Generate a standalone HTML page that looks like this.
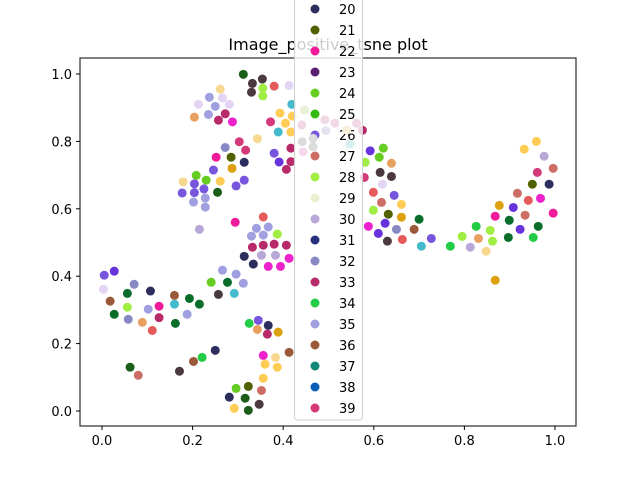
<!DOCTYPE html>
<html><head><meta charset="utf-8"><style>
html,body{margin:0;padding:0;background:#fff}
svg{display:block;font-family:"DejaVu Sans","Liberation Sans",sans-serif}
</style></head><body>
<svg id="chart" width="640" height="480">
<rect x="0" y="0" width="640" height="480" fill="#fff"/>
<g id="marks"></g>
<rect x="80" y="58" width="496" height="368" fill="none" stroke="#000" stroke-width="1"/>
<g id="axes"></g>
<text x="328" y="50" font-size="16" text-anchor="middle">Image_positive_tsne plot</text>
<g id="legend"></g>
<g id="faded"></g>
</svg>
<script>
const xs=[.312,.354,.332,.330,.355,.355,.380,.413,.261,.237,.266,.281,.213,.250,.235,.272,.257,.288,.204,.393,.420,.372,.405,.389,.417,.419,.343,.303,.317,.272,.252,.285,.314,.287,.246,.380,.391,.417,.417,.407,.208,.230,.179,.204,.225,.204,.177,.261,.255,.314,.296,.228,.202,.228,.215,.294,.356,.341,.367,.330,.356,.387,.332,.356,.380,.407,.314,.352,.383,.334,.367,.394,.413,.005,.027,.003,.071,.056,.107,.018,.056,.027,.058,.089,.102,.126,.126,.111,.160,.160,.162,.193,.215,.188,.266,.296,.312,.241,.277,.257,.292,.325,.345,.343,.367,.365,.389,.413,.356,.383,.360,.387,.356,.352,.296,.323,.281,.316,.347,.292,.323,.250,.221,.202,.171,.062,.080,
.575,.592,.621,.612,.581,.639,.579,.614,.639,.619,.599,.645,.617,.661,.599,.632,.661,.700,.588,.625,.610,.650,.689,.630,.663,.705,.727,.769,.795,.826,.813,.831,.857,.862,.848,.868,.877,.868,.908,.899,.897,.923,.934,.917,.941,.963,.952,.968,.950,.987,.961,.996,.976,.932,.959,.996];
const ys=[.999,.985,.972,.946,.958,.935,.964,.966,.955,.931,.929,.910,.910,.904,.880,.882,.863,.858,.872,.884,.875,.858,.854,.828,.828,.910,.808,.799,.774,.782,.753,.753,.738,.720,.715,.765,.739,.780,.740,.717,.699,.685,.680,.674,.659,.648,.647,.682,.649,.685,.668,.632,.620,.605,.539,.560,.576,.542,.546,.519,.522,.525,.486,.492,.495,.492,.459,.462,.462,.436,.429,.429,.453,.403,.415,.361,.376,.349,.356,.326,.308,.287,.272,.263,.302,.311,.277,.239,.343,.317,.260,.334,.317,.287,.418,.406,.379,.382,.382,.346,.349,.260,.269,.242,.254,.228,.234,.174,.165,.159,.139,.130,.097,.061,.067,.073,.041,.038,.020,.008,.002,.180,.159,.147,.118,.130,.106,
.833,.772,.780,.753,.738,.735,.693,.708,.696,.673,.649,.640,.619,.613,.596,.584,.575,.569,.548,.557,.527,.539,.539,.504,.509,.489,.512,.489,.518,.548,.486,.512,.536,.504,.474,.388,.610,.578,.604,.566,.515,.539,.581,.646,.625,.548,.515,.631,.673,.673,.708,.720,.756,.777,.800,.587];
const cls=[8,0,0,0,28,28,1,2,3,35,2,2,2,35,35,33,33,12,5,4,4,39,4,6,4,6,3,39,39,32,22,21,20,7,26,26,10,33,33,33,24,24,3,26,26,26,26,4,8,26,26,35,35,35,30,22,1,35,35,35,35,28,33,33,33,33,20,30,30,20,12,12,12,26,10,2,32,9,20,36,28,9,32,5,35,22,33,1,36,6,9,9,9,35,35,35,35,24,9,0,6,34,26,5,20,33,7,36,12,3,4,4,4,27,24,21,20,8,0,4,8,20,34,36,0,8,27,
33,10,24,24,28,5,39,0,0,2,1,26,27,4,28,21,7,9,12,10,10,32,36,0,1,6,26,34,28,34,30,5,28,28,3,7,7,22,10,9,9,10,27,27,1,9,34,12,21,20,39,27,30,4,4,22];
const fadedX=[.447,.441,.492,.514,.562,.494,.442,.466,.466,.444,.540,.547];
const fadedY=[.893,.849,.864,.854,.854,.832,.799,.809,.784,.769,.834,.792];
const fadedCol=["#e8f0d8","#f0d8e4","#f0d8e4","#f0d8e4","#f0d8e4","#e4e4f0","#dcdcdc","#dcdcdc","#dcdcdc","#f8d8ec","#f8f0dc","#d8f0f4"];
const legendLabels=[20,21,22,23,24,25,26,27,28,29,30,31,32,33,34,35,36,37,38,39];
const xTicks=[0.0,0.2,0.4,0.6,0.8,1.0];
const yTicks=[0.0,0.2,0.4,0.6,0.8,1.0];
const palette={0:"#4a3a3e",1:"#e55a5a",2:"#e4d4f4",3:"#f7d890",4:"#ffcc55",5:"#e8a060",6:"#44bbcc",7:"#dca010",8:"#1a5e1a",9:"#0a6e2a",10:"#6633dd",12:"#ee22cc",
20:"#2e2e5e",21:"#4f6100",22:"#f01a9a",23:"#5a1f6e",24:"#66cc22",25:"#33bb11",26:"#7755dd",27:"#cc6e66",28:"#a0ee44",29:"#e8f0d0",30:"#b8a8d8",31:"#283080",32:"#8888c4",33:"#b82a6a",34:"#22cc44",35:"#a0a0e0",36:"#9a5a3a",37:"#118877",38:"#0a60b8",39:"#d43a7a"};
const NS="http://www.w3.org/2000/svg";
const X=v=>102+453*v, Y=v=>411-337*v;
const marks=document.getElementById('marks');
for(let i=0;i<xs.length;i++){
  const c=document.createElementNS(NS,'circle');
  c.setAttribute('cx',X(xs[i]));c.setAttribute('cy',Y(ys[i]));c.setAttribute('r',4.5);
  c.setAttribute('fill',palette[cls[i]]);
  
  
  marks.appendChild(c);
}
const axes=document.getElementById('axes');
xTicks.forEach(t=>{
  const l=document.createElementNS(NS,'line');
  l.setAttribute('x1',X(t));l.setAttribute('x2',X(t));l.setAttribute('y1',426);l.setAttribute('y2',430);l.setAttribute('stroke','#000');
  
  
  axes.appendChild(l);
  const tx=document.createElementNS(NS,'text');
  tx.setAttribute('x',X(t));tx.setAttribute('y',445);tx.setAttribute('font-size','13');tx.setAttribute('text-anchor','middle');
  tx.textContent=t.toFixed(1);
  
  
  axes.appendChild(tx);
});
yTicks.forEach(t=>{
  const l=document.createElementNS(NS,'line');
  l.setAttribute('x1',76);l.setAttribute('x2',80);l.setAttribute('y1',Y(t));l.setAttribute('y2',Y(t));l.setAttribute('stroke','#000');
  
  
  axes.appendChild(l);
  const tx=document.createElementNS(NS,'text');
  tx.setAttribute('x',72);tx.setAttribute('y',Y(t)+5);tx.setAttribute('font-size','13');tx.setAttribute('text-anchor','end');
  tx.textContent=t.toFixed(1);
  
  
  axes.appendChild(tx);
});
const lg=document.getElementById('legend');
const box=document.createElementNS(NS,'rect');
box.setAttribute('x',294.5);box.setAttribute('y',-10);box.setAttribute('width',68);box.setAttribute('height',430);box.setAttribute('rx',3);
box.setAttribute('fill','rgba(255,255,255,0.8)');box.setAttribute('stroke','#d0d0d0');


lg.appendChild(box);
legendLabels.forEach((k,i)=>{
  const y=9+21*i;
  const c=document.createElementNS(NS,'circle');
  c.setAttribute('cx',315);c.setAttribute('cy',y);c.setAttribute('r',4.5);c.setAttribute('fill',palette[k]);
  
  
  lg.appendChild(c);
  const t=document.createElementNS(NS,'text');
  t.setAttribute('x',339);t.setAttribute('y',y+5);t.setAttribute('font-size','13');
  t.textContent=k;
  
  
  lg.appendChild(t);
});
const fg=document.getElementById('faded');
for(let i=0;i<fadedX.length;i++){
  const c=document.createElementNS(NS,'circle');
  c.setAttribute('cx',X(fadedX[i]));c.setAttribute('cy',Y(fadedY[i]));c.setAttribute('r',4.5);c.setAttribute('fill',fadedCol[i]);
  
  
  fg.appendChild(c);
}
</script>
</body></html>
